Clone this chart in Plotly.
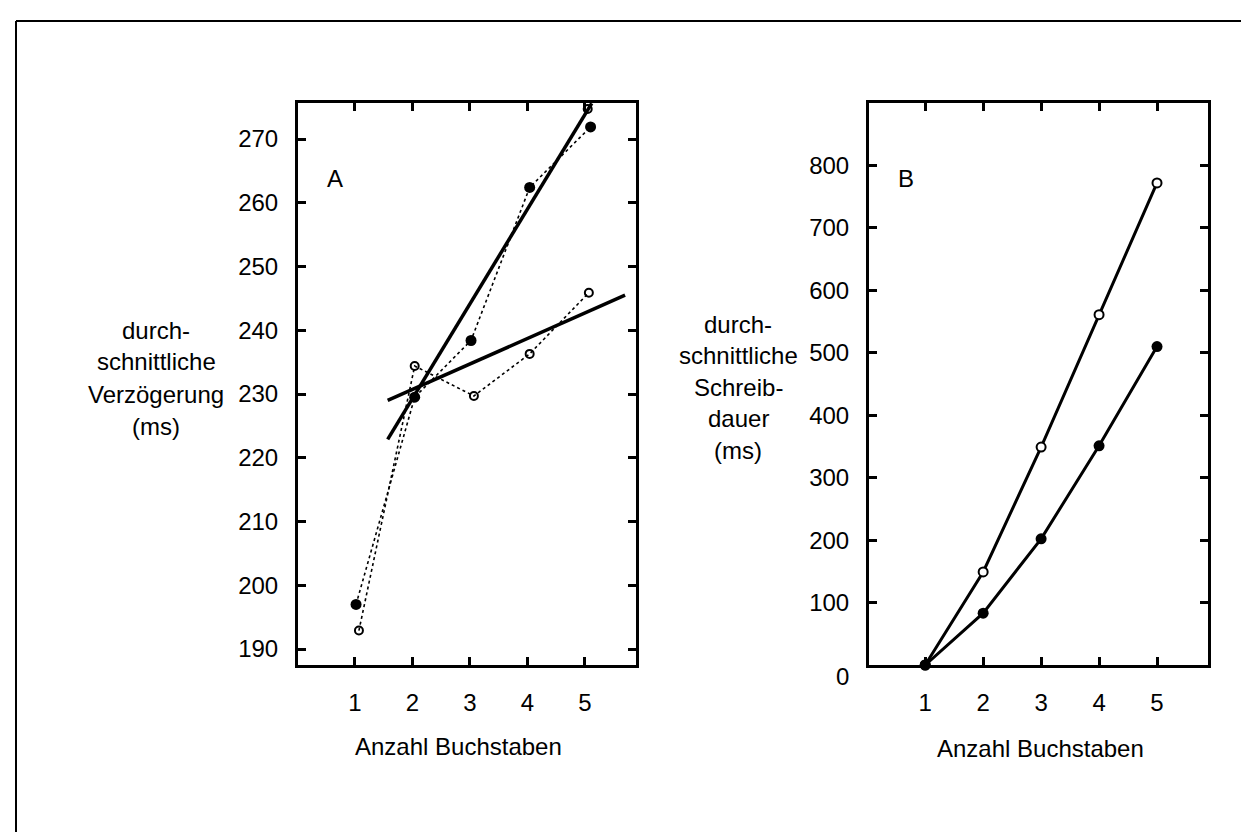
import plotly.graph_objects as go

# ---------------- data ----------------
# Panel A: durchschnittliche Verzögerung (ms)
A_filled_x = [1.02, 2.04, 3.02, 4.04, 5.10]
A_filled_y = [197.0, 229.5, 238.4, 262.4, 271.9]
A_open_x = [1.07, 2.04, 3.07, 4.04, 5.07]
A_open_y = [192.9, 234.4, 229.7, 236.3, 245.9]
A_extra_open_x = [5.05]
A_extra_open_y = [274.7]
# regression lines (endpoints as drawn)
A_fit_steep_x = [1.57, 5.12]
A_fit_steep_y = [222.9, 275.6]
A_fit_flat_x = [1.57, 5.70]
A_fit_flat_y = [229.0, 245.5]

# Panel B: durchschnittliche Schreibdauer (ms)
B_x = [1, 2, 3, 4, 5]
B_open_y = [0, 149, 349, 561, 772]
B_filled_y = [0, 83, 202, 351, 510]

x_ticks = [1, 2, 3, 4, 5]
A_yticks = [190, 200, 210, 220, 230, 240, 250, 260, 270]
B_yticks = [100, 200, 300, 400, 500, 600, 700, 800]

W, H = 1249, 832
FONT = "Liberation Sans, Arial, Helvetica, sans-serif"
FS = 24

def px(x):
    return x / W

def py(y):
    return 1 - y / H

fig = go.Figure()

# ---- Panel A traces ----
fig.add_trace(go.Scatter(x=A_filled_x, y=A_filled_y, mode="lines+markers",
                         line=dict(color="black", width=1.6, dash="dot"),
                         marker=dict(symbol="circle", size=11, color="black"),
                         xaxis="x", yaxis="y", showlegend=False))
fig.add_trace(go.Scatter(x=A_open_x, y=A_open_y, mode="lines+markers",
                         line=dict(color="black", width=1.6, dash="dot"),
                         marker=dict(symbol="circle-open", size=8, color="black",
                                     line=dict(width=2)),
                         xaxis="x", yaxis="y", showlegend=False))
fig.add_trace(go.Scatter(x=A_fit_steep_x, y=A_fit_steep_y, mode="lines",
                         line=dict(color="black", width=3.5),
                         xaxis="x", yaxis="y", showlegend=False))
fig.add_trace(go.Scatter(x=A_fit_flat_x, y=A_fit_flat_y, mode="lines",
                         line=dict(color="black", width=3.5),
                         xaxis="x", yaxis="y", showlegend=False))
fig.add_trace(go.Scatter(x=A_extra_open_x, y=A_extra_open_y, mode="markers",
                         marker=dict(symbol="circle-open", size=8, color="black",
                                     line=dict(width=2)),
                         xaxis="x", yaxis="y", showlegend=False, cliponaxis=False))

# ---- Panel B traces ----
fig.add_trace(go.Scatter(x=B_x, y=B_open_y, mode="lines+markers",
                         line=dict(color="black", width=3),
                         marker=dict(symbol="circle", size=9, color="white",
                                     line=dict(width=2, color="black")),
                         xaxis="x2", yaxis="y2", showlegend=False, cliponaxis=False))
fig.add_trace(go.Scatter(x=B_x, y=B_filled_y, mode="lines+markers",
                         line=dict(color="black", width=3),
                         marker=dict(symbol="circle", size=11, color="black"),
                         xaxis="x2", yaxis="y2", showlegend=False, cliponaxis=False))

ydom = [py(657), py(95)]

common_axis = dict(showgrid=False, zeroline=False, showline=True, linecolor="black",
                   linewidth=3, mirror="ticks", ticks="inside", ticklen=8,
                   tickwidth=2.5, tickcolor="black",
                   tickfont=dict(family=FONT, size=FS, color="black"))

fig.update_layout(
    width=W, height=H,
    margin=dict(l=0, r=0, t=0, b=0),
    paper_bgcolor="white", plot_bgcolor="white",
    font=dict(family=FONT, size=FS, color="black"),
    xaxis=dict(domain=[px(290), px(628)], range=[0.01, 5.89], tickvals=x_ticks,
               anchor="y", ticklabelstandoff=14, **common_axis),
    yaxis=dict(domain=ydom, range=[187.5, 275.65], tickvals=A_yticks,
               anchor="x", ticklabelstandoff=12, **common_axis),
    xaxis2=dict(domain=[px(861), px(1200)], range=[0.03, 5.88], tickvals=x_ticks,
                anchor="y2", ticklabelstandoff=14, **common_axis),
    yaxis2=dict(domain=ydom, range=[0, 900], tickvals=B_yticks,
                anchor="x2", ticklabelstandoff=12, **common_axis),
)

annotations = []

def add_text(text, x, y, size=FS, xanchor="center"):
    annotations.append(dict(text=text, x=px(x), y=py(y), xref="paper", yref="paper",
                            showarrow=False, xanchor=xanchor, yanchor="middle",
                            font=dict(family=FONT, size=size, color="black")))

# panel letters
add_text("A", 327, 170)
add_text("B", 898, 170)

# y-axis titles (multi-line, placed as in the original)
A_title_lines = ["durch-", "schnittliche", "Verzögerung", "(ms)"]
for i, t in enumerate(A_title_lines):
    add_text(t, 148, 322 + 32 * i)
B_title_lines = ["durch-", "schnittliche", "Schreib-", "dauer", "(ms)"]
for i, t in enumerate(B_title_lines):
    add_text(t, 730, 316 + 31.5 * i)

# x-axis titles
add_text("Anzahl Buchstaben", 450, 738)
add_text("Anzahl Buchstaben", 1032, 740)

# "0" label of panel B (set slightly below the axis as in the original)
add_text("0", 834, 668)

fig.update_layout(annotations=annotations)

# outer frame (only top and left edges are visible in the original)
fig.add_shape(type="line", xref="paper", yref="paper", x0=px(8), x1=1.0,
              y0=py(13), y1=py(13), line=dict(color="black", width=2))
fig.add_shape(type="line", xref="paper", yref="paper", x0=px(8), x1=px(8),
              y0=py(13), y1=0, line=dict(color="black", width=2))

fig.write_html("out.html")
